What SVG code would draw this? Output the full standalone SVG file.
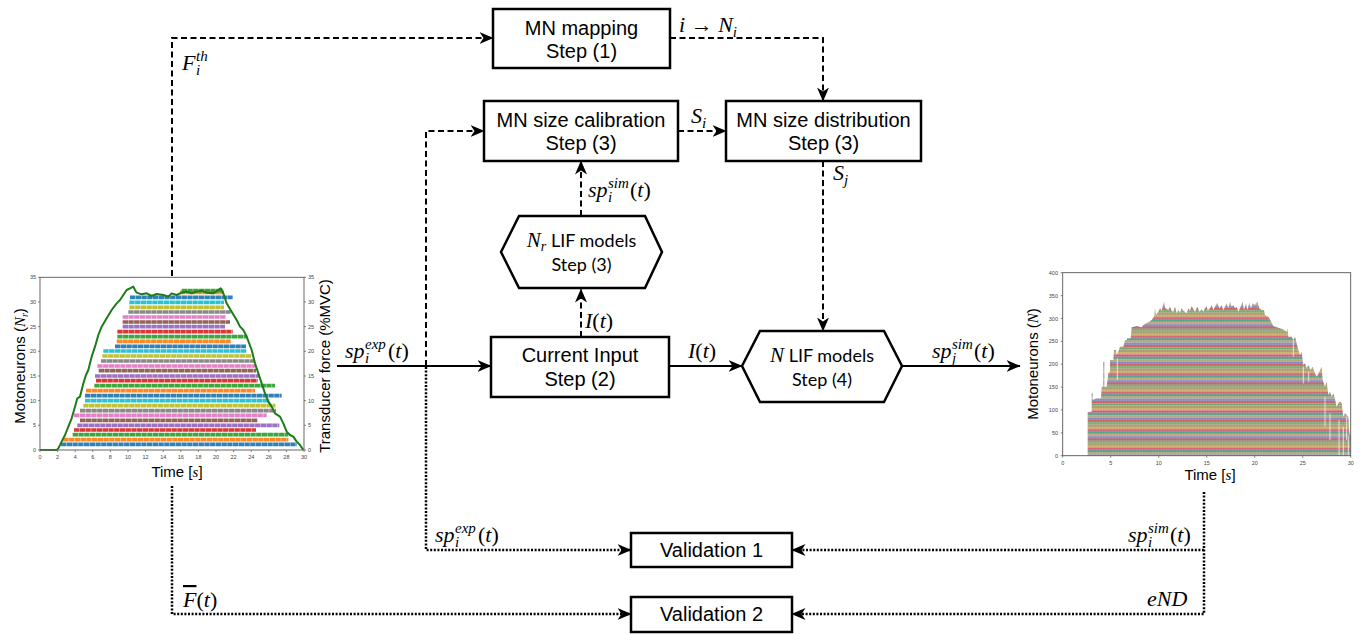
<svg xmlns="http://www.w3.org/2000/svg" width="1361" height="634" viewBox="0 0 1361 634">
<style>
.box{fill:#fff;stroke:#000;stroke-width:2.5}
.bt{font-family:"Liberation Sans",Arial,sans-serif;font-size:20px;fill:#000;text-anchor:middle}
.ht{font-family:Lato,"Open Sans",sans-serif;font-size:18px;fill:#000}
.m{font-family:"Liberation Serif","Times New Roman",serif;font-style:italic;font-size:22px;fill:#000}
.up{font-style:normal}
.sm{font-size:15px}
.dash{fill:none;stroke:#000;stroke-width:2;stroke-dasharray:6 3.5;marker-end:url(#ah)}
.dot{fill:none;stroke:#000;stroke-width:2.5;stroke-dasharray:2 1.6;marker-end:url(#ah)}
.sol{fill:none;stroke:#000;stroke-width:2.2;marker-end:url(#ah)}
.ax{fill:none;stroke:#666;stroke-width:3}
.tk{font-family:"Liberation Sans",Arial,sans-serif;font-size:5.5px;fill:#444}
.lab{font-family:"Liberation Sans",Arial,sans-serif;font-size:15px;fill:#000}
.row{stroke-width:11;stroke-dasharray:16 1.2;opacity:.92}
.c0{stroke:#1f77b4}.c1{stroke:#ff7f0e}.c2{stroke:#2ca02c}.c3{stroke:#d62728}.c4{stroke:#9467bd}
.c5{stroke:#8c564b}.c6{stroke:#e377c2}.c7{stroke:#7f7f7f}.c8{stroke:#bcbd22}.c9{stroke:#17becf}
</style>
<defs>
<marker id="ah" viewBox="0 0 14 12" refX="13.5" refY="6" markerWidth="14" markerHeight="12" orient="auto" markerUnits="userSpaceOnUse">
<path d="M0,0 L14,6 L0,12 L4,6 Z" fill="#000"/>
</marker>
<pattern id="stripes" patternUnits="userSpaceOnUse" width="40" height="56">
<rect x="0" y="0" width="40" height="7" fill="#c9b06a"/>
<rect x="0" y="7" width="40" height="7" fill="#d4506e"/>
<rect x="0" y="14" width="40" height="7" fill="#52a08a"/>
<rect x="0" y="21" width="40" height="7" fill="#b7a36b"/>
<rect x="0" y="28" width="40" height="7" fill="#7a86c8"/>
<rect x="0" y="35" width="40" height="7" fill="#d35c5c"/>
<rect x="0" y="42" width="40" height="7" fill="#6aa46a"/>
<rect x="0" y="49" width="40" height="7" fill="#a99a70"/>
<path d="M3,0 V56 M11,0 V56 M19,0 V56 M27,0 V56 M35,0 V56" stroke="#fff" stroke-width="1" opacity=".35"/>
</pattern>
</defs>

<!-- Left plot -->
<g id="plot-left">
<g transform="translate(0,270) scale(0.333333)">
<line class="row c0" x1="183" y1="523" x2="890" y2="523"/>
<line class="row c1" x1="190" y1="509" x2="865" y2="509"/>
<line class="row c2" x1="218" y1="494" x2="865" y2="494"/>
<line class="row c3" x1="222" y1="480" x2="768" y2="480"/>
<line class="row c4" x1="232" y1="466" x2="838" y2="466"/>
<line class="row c5" x1="240" y1="451" x2="772" y2="451"/>
<line class="row c6" x1="222" y1="436" x2="800" y2="436"/>
<line class="row c7" x1="240" y1="422" x2="828" y2="422"/>
<line class="row c8" x1="250" y1="407" x2="826" y2="407"/>
<line class="row c9" x1="255" y1="392" x2="808" y2="392"/>
<line class="row c0" x1="255" y1="377" x2="845" y2="377"/>
<line class="row c1" x1="258" y1="362" x2="765" y2="362"/>
<line class="row c2" x1="283" y1="347" x2="825" y2="347"/>
<line class="row c3" x1="288" y1="332" x2="773" y2="332"/>
<line class="row c4" x1="285" y1="318" x2="778" y2="318"/>
<line class="row c5" x1="296" y1="302" x2="768" y2="302"/>
<line class="row c6" x1="292" y1="288" x2="765" y2="288"/>
<line class="row c7" x1="303" y1="273" x2="765" y2="273"/>
<line class="row c8" x1="307" y1="258" x2="755" y2="258"/>
<line class="row c9" x1="310" y1="243" x2="740" y2="243"/>
<line class="row c0" x1="345" y1="229" x2="738" y2="229"/>
<line class="row c1" x1="350" y1="214" x2="692" y2="214"/>
<line class="row c2" x1="352" y1="200" x2="742" y2="200"/>
<line class="row c3" x1="352" y1="185" x2="698" y2="185"/>
<line class="row c4" x1="368" y1="170" x2="675" y2="170"/>
<line class="row c5" x1="368" y1="156" x2="690" y2="156"/>
<line class="row c6" x1="368" y1="141" x2="677" y2="141"/>
<line class="row c7" x1="385" y1="126" x2="692" y2="126"/>
<line class="row c8" x1="388" y1="112" x2="672" y2="112"/>
<line class="row c9" x1="388" y1="97" x2="672" y2="97"/>
<line class="row c0" x1="390" y1="82" x2="698" y2="82"/>
<line class="row c1" x1="540" y1="67" x2="672" y2="67"/>
<line class="row c2" x1="545" y1="62" x2="668" y2="62"/>
<path d="M120,540 L170,540 L175,535 L185,515 L195,495 L205,470 L215,445 L225,410 L232,385 L240,380 L250,340 L258,315 L265,300 L275,260 L285,230 L295,195 L305,170 L320,145 L335,120 L350,100 L360,90 L370,75 L380,60 L390,55 L400,50 L405,60 L410,68 L425,73 L440,70 L455,78 L470,72 L490,75 L505,80 L515,70 L530,75 L545,68 L560,65 L575,70 L590,65 L605,62 L620,68 L640,70 L655,60 L662,55 L668,65 L672,75 L680,100 L695,125 L710,150 L720,170 L730,180 L740,200 L755,240 L765,280 L775,310 L785,340 L795,370 L805,395 L815,410 L825,430 L840,440 L850,460 L860,485 L870,495 L880,500 L890,515 L900,525 L910,540" fill="none" stroke="#1c7c1c" stroke-width="6" stroke-linejoin="round"/>
<rect class="ax" x="120" y="22" width="792" height="518"/>
</g>
<g stroke="#666" stroke-width="0.8">
<path d="M40,450 h-2 M40,425.3 h-2 M40,400.6 h-2 M40,376 h-2 M40,351.3 h-2 M40,326.6 h-2 M40,301.9 h-2 M40,277.3 h-2"/>
<path d="M304,450 h2 M304,425.3 h2 M304,400.6 h2 M304,376 h2 M304,351.3 h2 M304,326.6 h2 M304,301.9 h2 M304,277.3 h2"/>
<path d="M40,450 v2 M57.6,450 v2 M75.2,450 v2 M92.8,450 v2 M110.4,450 v2 M128,450 v2 M145.6,450 v2 M163.2,450 v2 M180.8,450 v2 M198.4,450 v2 M216,450 v2 M233.6,450 v2 M251.2,450 v2 M268.8,450 v2 M286.4,450 v2 M304,450 v2"/>
</g>
<g class="tk" text-anchor="end">
<text x="36" y="452">0</text><text x="36" y="427.3">5</text><text x="36" y="402.6">10</text><text x="36" y="378">15</text><text x="36" y="353.3">20</text><text x="36" y="328.6">25</text><text x="36" y="303.9">30</text><text x="36" y="279.3">35</text>
</g>
<g class="tk">
<text x="308" y="452">0</text><text x="308" y="427.3">5</text><text x="308" y="402.6">10</text><text x="308" y="378">15</text><text x="308" y="353.3">20</text><text x="308" y="328.6">25</text><text x="308" y="303.9">30</text><text x="308" y="279.3">35</text>
</g>
<g class="tk" text-anchor="middle">
<text x="40" y="459">0</text><text x="57.6" y="459">2</text><text x="75.2" y="459">4</text><text x="92.8" y="459">6</text><text x="110.4" y="459">8</text><text x="128" y="459">10</text><text x="145.6" y="459">12</text><text x="163.2" y="459">14</text><text x="180.8" y="459">16</text><text x="198.4" y="459">18</text><text x="216" y="459">20</text><text x="233.6" y="459">22</text><text x="251.2" y="459">24</text><text x="268.8" y="459">26</text><text x="286.4" y="459">28</text><text x="304" y="459">30</text>
</g>
<text class="lab" x="177" y="477" text-anchor="middle">Time [<tspan font-family="Liberation Serif,serif" font-style="italic">s</tspan>]</text>
<text class="lab" transform="translate(25,366) rotate(-90)" text-anchor="middle">Motoneurons (<tspan font-family="Liberation Serif,serif" font-style="italic">N</tspan><tspan font-family="Liberation Serif,serif" font-style="italic" font-size="10" dy="3">r</tspan><tspan dy="-3">)</tspan></text>
<text class="lab" transform="translate(330,366) rotate(-90)" text-anchor="middle">Transducer force (%MVC)</text>
</g>

<!-- Right plot -->
<g id="plot-right">
<g transform="translate(1040,240) scale(0.333333)">
<path fill="url(#stripes)" d="M143,647 L143,517 L150,515 L155,515 L155,460 L158,460 L158,480 L170,475 L183,475 L185,440 L190,440 L190,365 L193,365 L193,440 L200,440 L205,400 L210,395 L210,360 L220,360 L222,330 L228,330 L230,345 L237,330 L240,320 L250,320 L255,300 L260,300 L262,295 L272,295 L275,262 L290,258 L305,262 L310,255 L318,250 L328,245 L335,240 L343,228 L345,205 L348,225 L355,215 L360,205 L365,212 L372,185 L376,205 L385,210 L390,200 L395,212 L400,215 L405,200 L410,220 L415,210 L420,218 L425,205 L430,212 L440,220 L445,205 L450,212 L455,198 L460,208 L465,215 L472,200 L478,215 L485,208 L490,215 L495,205 L500,198 L503,212 L510,205 L515,195 L520,210 L525,200 L532,188 L538,205 L545,195 L550,210 L555,200 L560,190 L565,205 L570,185 L575,200 L580,195 L585,205 L590,200 L595,215 L600,205 L608,185 L612,210 L618,190 L622,210 L628,188 L633,205 L638,190 L645,195 L652,185 L658,205 L665,210 L672,210 L675,225 L685,230 L692,242 L700,258 L710,262 L720,265 L728,268 L740,275 L742,265 L745,290 L755,290 L760,300 L765,290 L770,310 L775,330 L780,345 L785,335 L790,375 L795,370 L800,385 L805,375 L812,390 L818,380 L825,400 L830,410 L838,395 L845,380 L848,420 L855,440 L860,425 L865,465 L870,455 L875,470 L880,460 L885,478 L890,500 L895,490 L900,485 L905,490 L910,530 L915,520 L920,525 L925,530 L928,580 L932,585 L932,647 Z"/>
<g stroke="#fff" stroke-width="2.5" opacity=".85">
<path d="M910,560 V647 M925,590 V647 M897,540 V647 M870,520 V600 M855,470 V560 M790,380 V430 M806,395 V425 M232,355 V420 M760,300 V350 M920,530 V600"/>
</g>
<rect class="ax" x="68" y="98" width="864" height="549"/>
</g>
<g stroke="#666" stroke-width="0.8">
<path d="M1062.7,455.7 h-2 M1062.7,432.8 h-2 M1062.7,409.9 h-2 M1062.7,387.1 h-2 M1062.7,364.2 h-2 M1062.7,341.3 h-2 M1062.7,318.5 h-2 M1062.7,295.6 h-2 M1062.7,272.7 h-2"/>
<path d="M1062.7,455.7 v2 M1110.7,455.7 v2 M1158.7,455.7 v2 M1206.7,455.7 v2 M1254.7,455.7 v2 M1302.7,455.7 v2 M1350.7,455.7 v2"/>
</g>
<g class="tk" text-anchor="end">
<text x="1058" y="457.7">0</text><text x="1058" y="434.8">50</text><text x="1058" y="411.9">100</text><text x="1058" y="389.1">150</text><text x="1058" y="366.2">200</text><text x="1058" y="343.3">250</text><text x="1058" y="320.5">300</text><text x="1058" y="297.6">350</text><text x="1058" y="274.7">400</text>
</g>
<g class="tk" text-anchor="middle">
<text x="1062.7" y="465">0</text><text x="1110.7" y="465">5</text><text x="1158.7" y="465">10</text><text x="1206.7" y="465">15</text><text x="1254.7" y="465">20</text><text x="1302.7" y="465">25</text><text x="1350.7" y="465">30</text>
</g>
<text class="lab" x="1210" y="480" text-anchor="middle">Time [<tspan font-family="Liberation Serif,serif" font-style="italic">s</tspan>]</text>
<text class="lab" transform="translate(1038,364) rotate(-90)" text-anchor="middle">Motoneurons (<tspan font-family="Liberation Serif,serif" font-style="italic">N</tspan>)</text>
</g>

<!-- Connectors -->
<g id="connectors">
<path class="dash" d="M172,276 V38 H493"/>
<path class="dash" d="M670,38 H823 V101"/>
<path class="dash" d="M678,131 H726"/>
<path class="dash" d="M823,161 V331"/>
<path class="dash" d="M426,366 V131 H484"/>
<path class="dash" d="M581,216 V161"/>
<path class="dash" d="M581,337 V289"/>
<path class="sol" d="M337,366 H491"/>
<path class="sol" d="M669,366 H742"/>
<path class="sol" d="M902,366 H1020"/>
<path class="dot" d="M426,367 V550 H631"/>
<path class="dot" d="M172,486 V614 H631"/>
<path class="dot" d="M1204,492 V614 H792"/>
<path class="dot" d="M1204,550 H792"/>
<!-- connector labels -->
<text class="m" x="182" y="70">F<tspan class="sm" x="196" dy="5">i</tspan><tspan class="sm" x="196" dy="-14">th</tspan></text>
<text class="m" x="679" y="32">i <tspan class="up">→</tspan> N<tspan class="sm" dy="5">i</tspan></text>
<text class="m" x="691" y="123">S<tspan class="sm" dy="5">i</tspan></text>
<text class="m" x="833" y="180">S<tspan class="sm" dy="5">j</tspan></text>
<text class="m" x="588" y="197">sp<tspan class="sm" x="608" dy="5">i</tspan><tspan class="sm" x="608" dy="-14">sim</tspan><tspan class="up" x="630" dy="9">(</tspan>t<tspan class="up">)</tspan></text>
<text class="m" x="585" y="328"><tspan>I</tspan><tspan class="up">(</tspan>t<tspan class="up">)</tspan></text>
<text class="m" x="345" y="358">sp<tspan class="sm" x="365" dy="5">i</tspan><tspan class="sm" x="365" dy="-14">exp</tspan><tspan class="up" x="388" dy="9">(</tspan>t<tspan class="up">)</tspan></text>
<text class="m" x="688" y="358">I<tspan class="up">(</tspan>t<tspan class="up">)</tspan></text>
<text class="m" x="932" y="358">sp<tspan class="sm" x="952" dy="5">j</tspan><tspan class="sm" x="952" dy="-14">sim</tspan><tspan class="up" x="974" dy="9">(</tspan>t<tspan class="up">)</tspan></text>
<text class="m" x="435" y="542">sp<tspan class="sm" x="455" dy="5">i</tspan><tspan class="sm" x="455" dy="-14">exp</tspan><tspan class="up" x="478" dy="9">(</tspan>t<tspan class="up">)</tspan></text>
<text class="m" x="1128" y="542">sp<tspan class="sm" x="1148" dy="5">i</tspan><tspan class="sm" x="1148" dy="-14">sim</tspan><tspan class="up" x="1170" dy="9">(</tspan>t<tspan class="up">)</tspan></text>
<text class="m" x="183" y="607"><tspan style="text-decoration:overline">F</tspan><tspan class="up">(</tspan>t<tspan class="up">)</tspan></text>
<text class="m" x="1147" y="606">eND</text>
</g>

<!-- Nodes -->
<g id="node-mapping">
<rect class="box" x="493" y="9" width="177" height="59"/>
<text class="bt" x="581.5" y="35">MN mapping</text>
<text class="bt" x="581.5" y="58">Step (1)</text>
</g>
<g id="node-calibration">
<rect class="box" x="484" y="101" width="194" height="60"/>
<text class="bt" x="581" y="127">MN size calibration</text>
<text class="bt" x="581" y="150">Step (3)</text>
</g>
<g id="node-distribution">
<rect class="box" x="726" y="101" width="195" height="60"/>
<text class="bt" x="823.5" y="127">MN size distribution</text>
<text class="bt" x="823.5" y="150">Step (3)</text>
</g>
<g id="node-nr-lif">
<polygon class="box" points="501,252 519,216 645,216 662,252 645,288 519,288"/>
<text class="ht" x="581.5" y="247" text-anchor="middle"><tspan font-family="Liberation Serif,serif" font-style="italic" font-size="21">N</tspan><tspan font-family="Liberation Serif,serif" font-style="italic" font-size="14" dy="4">r</tspan><tspan dy="-4"> LIF models</tspan></text>
<text class="ht" x="581.5" y="271" text-anchor="middle">Step (3)</text>
</g>
<g id="node-current">
<rect class="box" x="491" y="337" width="178" height="60"/>
<text class="bt" x="580" y="362">Current Input</text>
<text class="bt" x="580" y="386">Step (2)</text>
</g>
<g id="node-n-lif">
<polygon class="box" points="742,366 760,331 884,331 902,366 884,402 760,402"/>
<text class="ht" x="822" y="362" text-anchor="middle"><tspan font-family="Liberation Serif,serif" font-style="italic" font-size="21">N</tspan> LIF models</text>
<text class="ht" x="822" y="386" text-anchor="middle">Step (4)</text>
</g>
<g id="node-val1">
<rect class="box" x="631" y="533" width="161" height="34"/>
<text class="bt" x="711.5" y="557">Validation 1</text>
</g>
<g id="node-val2">
<rect class="box" x="631" y="597" width="161" height="35"/>
<text class="bt" x="711.5" y="621">Validation 2</text>
</g>
</svg>
